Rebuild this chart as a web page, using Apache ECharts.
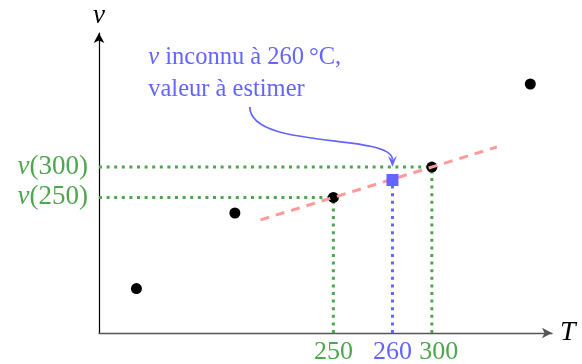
<!DOCTYPE html>
<html><head><meta charset="utf-8">
<script src="https://cdn.jsdelivr.net/npm/echarts@6/dist/echarts.min.js"></script>
<style>html,body{margin:0;padding:0;background:#fff}#c{width:582px;height:364px}</style>
</head><body><div id="c"></div>
<script>
// ---- data (schematic axes) ----
const samplesT = [150, 200, 250, 300, 350];
const samplesV = [14.8, 40, 45.2, 55.3, 83];
const estimateT = [280];          // schematic position of the 260 °C estimate
const estimateV = [51];
const fitT = [213, 333];
const fitV = [37.7, 62];
const xTickValues = [250, 280, 300];
const xTickLabels = ['250', '260', '300'];
const xTickStyles = ['g', 'b', 'g2'];
const yTickValues = [45.2, 55.3];
const yTickLabels = ['(250)', '(300)'];
const noteLines = ['inconnu à 260\u2009°C,', 'valeur à estimer'];
const arrowFrom = [207.6, 75.3];
const arrowTo = [280, 55.4];
const noteAt = [156, 91.7];
const xMin = 131, xMax = 361, yMin = 0, yMax = 100;

const GREEN = '#4ea64e', BLUE = '#6464ff', PINK = '#ff9a9a';
const SERIF = "'Liberation Serif', 'DejaVu Serif', serif";

const chart = echarts.init(document.getElementById('c'), null, {renderer: 'canvas'});

function guide(points, color, z) {
  return {
    type: 'line', data: points, symbol: 'none', silent: true, z: z,
    lineStyle: {color: color, width: 3, type: [3, 4.6], cap: 'butt'},
    animation: false
  };
}

const i250 = samplesT.indexOf(250), i300 = samplesT.indexOf(300);

const option = {
  animation: false,
  grid: {left: 99, right: 30, top: 33, bottom: 31, containLabel: false, outerBoundsMode: 'none'},
  xAxis: {
    type: 'value', min: xMin, max: xMax,
    axisLine: {show: true, onZero: false, symbol: ['none', 'arrow'], symbolSize: [8, 10],
      lineStyle: {color: '#555', width: 1.4}},
    axisTick: {show: false}, splitLine: {show: false},
    axisLabel: {
      customValues: xTickValues, margin: 6, hideOverlap: false, showMinLabel: true, showMaxLabel: true,
      formatter: (v) => { const i = xTickValues.indexOf(v); return '{' + xTickStyles[i] + '|' + xTickLabels[i] + '}'; },
      rich: {
        g: {color: GREEN, fontFamily: SERIF, fontSize: 26},
        g2: {color: GREEN, fontFamily: SERIF, fontSize: 26, padding: [0, 0, 0, 14]},
        b: {color: BLUE, fontFamily: SERIF, fontSize: 26}
      }
    },
    name: 'T', nameLocation: 'end', nameGap: 8,
    nameTextStyle: {fontFamily: SERIF, fontStyle: 'italic', fontSize: 28, color: '#000'}
  },
  yAxis: {
    type: 'value', min: yMin, max: yMax,
    axisLine: {show: true, onZero: false, symbol: ['none', 'arrow'], symbolSize: [8, 10],
      lineStyle: {color: '#000', width: 1.2}},
    axisTick: {show: false}, splitLine: {show: false},
    axisLabel: {
      customValues: yTickValues, margin: 11, hideOverlap: false,
      formatter: (v) => '{i|v}{n|' + yTickLabels[yTickValues.indexOf(v)] + '}',
      rich: {
        i: {color: GREEN, fontFamily: SERIF, fontStyle: 'italic', fontSize: 27},
        n: {color: GREEN, fontFamily: SERIF, fontSize: 27}
      }
    },
    name: 'v', nameLocation: 'end', nameGap: 4,
    nameTextStyle: {fontFamily: SERIF, fontStyle: 'italic', fontSize: 27, color: '#000'}
  },
  series: [
    guide([[xMin, samplesV[i300]], [samplesT[i300], samplesV[i300]]], GREEN, 1),
    guide([[xMin, samplesV[i250]], [samplesT[i250], samplesV[i250]]], GREEN, 1),
    guide([[samplesT[i250], yMin], [samplesT[i250], samplesV[i250]]], GREEN, 1),
    guide([[samplesT[i300], yMin], [samplesT[i300], samplesV[i300]]], GREEN, 1),
    guide([[estimateT[0], yMin], [estimateT[0], estimateV[0]]], BLUE, 1),
    {
      type: 'scatter', z: 2, symbol: 'circle', symbolSize: 11, silent: true,
      itemStyle: {color: '#000', opacity: 1},
      data: samplesT.map((t, i) => [t, samplesV[i]])
    },
    {
      type: 'line', z: 3, symbol: 'none', silent: true,
      lineStyle: {color: PINK, width: 3, type: [9, 7], cap: 'butt'},
      data: fitT.map((t, i) => [t, fitV[i]])
    },
    {
      type: 'scatter', z: 4, symbol: 'rect', symbolSize: 12, silent: true,
      itemStyle: {color: BLUE, opacity: 1},
      data: estimateT.map((t, i) => [t, estimateV[i]])
    },
    {
      type: 'custom', z: 5, silent: true, clip: false,
      data: [[arrowFrom[0], arrowFrom[1]]],
      renderItem: (params, api) => {
        const p0 = api.coord(arrowFrom);
        const tip = api.coord(arrowTo);
        const n = api.coord(noteAt);
        const headLen = 11, half = 4.5;
        const endY = tip[1] - 7;
        return {
          type: 'group',
          children: [
            {type: 'bezierCurve',
             shape: {x1: p0[0], y1: p0[1], cpx1: p0[0], cpy1: p0[1] + 43,
                     cpx2: tip[0], cpy2: tip[1] - 34, x2: tip[0], y2: endY},
             style: {stroke: BLUE, lineWidth: 1.7, fill: null}},
            {type: 'polygon',
             shape: {points: [[tip[0], tip[1]], [tip[0] - half, tip[1] - headLen],
                              [tip[0], tip[1] - headLen * 0.6], [tip[0] + half, tip[1] - headLen]]},
             style: {fill: BLUE}},
            {type: 'text',
             style: {text: '{i|v} ' + noteLines[0], x: n[0], y: n[1], align: 'left', verticalAlign: 'middle',
                     fill: BLUE, fontFamily: SERIF, fontSize: 24.5,
                     rich: {i: {fontStyle: 'italic', fontFamily: SERIF, fontSize: 24.5, fill: BLUE, color: BLUE}}}},
            {type: 'text',
             style: {text: noteLines[1], x: n[0], y: n[1] + 32, align: 'left', verticalAlign: 'middle',
                     fill: BLUE, fontFamily: SERIF, fontSize: 24.5}}
          ]
        };
      }
    }
  ]
};
chart.setOption(option);
</script>
</body></html>
